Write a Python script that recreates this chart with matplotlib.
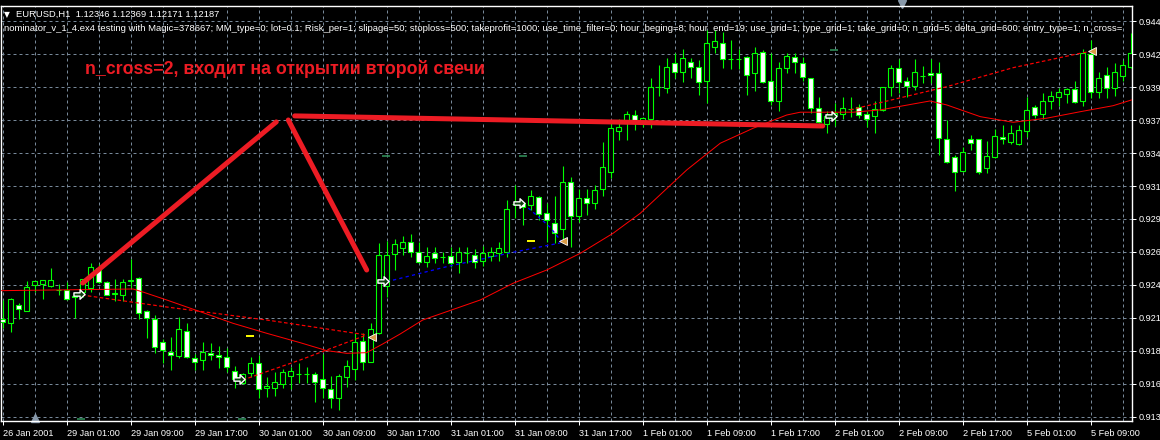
import numpy as np
import matplotlib.pyplot as plt
from matplotlib.path import Path

plt.rcParams['font.family'] = ['Liberation Sans', 'DejaVu Sans']

symbol_line = "EURUSD,H1  1.12346 1.12369 1.12171 1.12187"
ea_line = ("nominator_v_1_4.ex4 testing with Magic=378667; MM_type=0; lot=0.1; Risk_per=1; slipage=50; "
           "stoploss=500; takeprofit=1000; use_time_filter=0; hour_beging=8; hour_end=19; use_grid=1; "
           "type_grid=1; take_grid=0; n_grid=5; delta_grid=600; entry_type=1; n_cross=")
note = "n_cross=2, входит на открытии второй свечи"

time_labels = ["26 Jan 2001", "29 Jan 01:00", "29 Jan 09:00", "29 Jan 17:00", "30 Jan 01:00",
               "30 Jan 09:00", "30 Jan 17:00", "31 Jan 01:00", "31 Jan 09:00", "31 Jan 17:00",
               "1 Feb 01:00", "1 Feb 09:00", "1 Feb 17:00", "2 Feb 01:00", "2 Feb 09:00",
               "2 Feb 17:00", "5 Feb 01:00", "5 Feb 09:00"]
price_labels = ["0.913", "0.916", "0.918", "0.921", "0.924", "0.926", "0.929",
                "0.931", "0.934", "0.937", "0.939", "0.942", "0.944"]

# H1 bars
opens = [0.92096, 0.92067, 0.92203, 0.92161, 0.92360, 0.92368, 0.92357, 0.92323, 0.92323, 0.92280,
         0.92310, 0.92337, 0.92493, 0.92384, 0.92295, 0.92282, 0.92395, 0.92420, 0.92161, 0.92094,
         0.91913, 0.91840, 0.91806, 0.92002, 0.91788, 0.91772, 0.91827, 0.91814, 0.91796, 0.91691,
         0.91597, 0.91675, 0.91749, 0.91553, 0.91553, 0.91584, 0.91652, 0.91665, 0.91665, 0.91665,
         0.91623, 0.91545, 0.91474, 0.91639, 0.91702, 0.91924, 0.91761, 0.91984, 0.92355, 0.92606,
         0.92650, 0.92702, 0.92624, 0.92545, 0.92611, 0.92585, 0.92590, 0.92545, 0.92616, 0.92598,
         0.92553, 0.92592, 0.92611, 0.92624, 0.92995, 0.93003, 0.92990, 0.93055, 0.92925, 0.92846,
         0.92799, 0.93168, 0.92906, 0.93042, 0.93003, 0.93113, 0.93251, 0.93572, 0.93643, 0.93695,
         0.93651, 0.93662, 0.93917, 0.93909, 0.94101, 0.94030, 0.94113, 0.94074, 0.93964, 0.94226,
         0.94262, 0.94134, 0.94134, 0.94152, 0.94022, 0.94192, 0.93964, 0.93808, 0.94062, 0.94148,
         0.94101, 0.93983, 0.93748, 0.93622, 0.93695, 0.93703, 0.93740, 0.93761, 0.93703, 0.93688,
         0.93735, 0.93913, 0.94062, 0.93962, 0.93925, 0.94001, 0.94022, 0.94022, 0.93505, 0.93364,
         0.93259, 0.93505, 0.93505, 0.93278, 0.93364, 0.93521, 0.93486, 0.93466, 0.93572, 0.93761,
         0.93701, 0.93808, 0.93839, 0.93860, 0.93897, 0.93808, 0.94174, 0.93878, 0.94009, 0.93909,
         0.94001, 0.94069]
highs = [0.92245, 0.92261, 0.92221, 0.92396, 0.92396, 0.92402, 0.92494, 0.92368, 0.92384, 0.92284,
         0.92410, 0.92537, 0.92525, 0.92396, 0.92407, 0.92407, 0.92569, 0.92425, 0.92165, 0.92127,
         0.91939, 0.91953, 0.92110, 0.92067, 0.91822, 0.91913, 0.91906, 0.91884, 0.91866, 0.91730,
         0.91670, 0.91800, 0.91814, 0.91644, 0.91683, 0.91704, 0.91722, 0.91749, 0.91722, 0.91683,
         0.91819, 0.91649, 0.91665, 0.91775, 0.91984, 0.91984, 0.92067, 0.92690, 0.92710, 0.92721,
         0.92747, 0.92762, 0.92702, 0.92658, 0.92663, 0.92619, 0.92663, 0.92663, 0.92663, 0.92642,
         0.92668, 0.92658, 0.92702, 0.93029, 0.93147, 0.93016, 0.93107, 0.93060, 0.93003, 0.93060,
         0.93296, 0.93207, 0.93113, 0.93113, 0.93147, 0.93486, 0.93630, 0.93662, 0.93729, 0.93735,
         0.93682, 0.93983, 0.94087, 0.94145, 0.94179, 0.94210, 0.94140, 0.94127, 0.94362, 0.94362,
         0.94348, 0.94283, 0.94210, 0.94158, 0.94231, 0.94205, 0.94179, 0.94113, 0.94184, 0.94179,
         0.94152, 0.93988, 0.93834, 0.93729, 0.93787, 0.93834, 0.93834, 0.93782, 0.93729, 0.93808,
         0.93916, 0.94087, 0.94132, 0.93996, 0.94132, 0.94080, 0.94132, 0.94113, 0.93656, 0.93382,
         0.93442, 0.93539, 0.93508, 0.93494, 0.93583, 0.93617, 0.93617, 0.93617, 0.93839, 0.93774,
         0.93870, 0.93886, 0.93905, 0.93905, 0.93964, 0.94210, 0.94283, 0.94030, 0.94074, 0.94105,
         0.94127, 0.94336]
lows = [0.92023, 0.91997, 0.92094, 0.92155, 0.92310, 0.92253, 0.92350, 0.92284, 0.92245, 0.92106,
        0.92271, 0.92310, 0.92376, 0.92282, 0.92235, 0.92240, 0.92337, 0.92094, 0.91945, 0.91832,
        0.91753, 0.91696, 0.91788, 0.91788, 0.91696, 0.91696, 0.91775, 0.91710, 0.91683, 0.91553,
        0.91586, 0.91644, 0.91474, 0.91487, 0.91492, 0.91553, 0.91550, 0.91592, 0.91597, 0.91448,
        0.91474, 0.91396, 0.91383, 0.91565, 0.91618, 0.91696, 0.91755, 0.91980, 0.92271, 0.92480,
        0.92598, 0.92584, 0.92537, 0.92506, 0.92537, 0.92537, 0.92506, 0.92459, 0.92533, 0.92493,
        0.92512, 0.92553, 0.92553, 0.92584, 0.92886, 0.92833, 0.92951, 0.92872, 0.92702, 0.92694,
        0.92702, 0.92658, 0.92859, 0.92911, 0.92961, 0.93060, 0.93199, 0.93499, 0.93499, 0.93578,
        0.93604, 0.93591, 0.93844, 0.93870, 0.93983, 0.93957, 0.93983, 0.93852, 0.93787, 0.94179,
        0.94062, 0.94054, 0.94054, 0.93852, 0.93886, 0.93944, 0.93774, 0.93729, 0.94022, 0.94027,
        0.93964, 0.93713, 0.93635, 0.93552, 0.93609, 0.93662, 0.93682, 0.93670, 0.93604, 0.93552,
        0.93729, 0.93844, 0.93870, 0.93839, 0.93891, 0.93944, 0.93949, 0.93382, 0.93321, 0.93102,
        0.93251, 0.93421, 0.93233, 0.93243, 0.93360, 0.93468, 0.93468, 0.93460, 0.93521, 0.93670,
        0.93662, 0.93740, 0.93766, 0.93792, 0.93787, 0.93768, 0.93826, 0.93826, 0.93826, 0.93844,
        0.93964, 0.94065]
closes = [0.92075, 0.92250, 0.92172, 0.92345, 0.92392, 0.92399, 0.92399, 0.92323, 0.92251, 0.92270,
          0.92407, 0.92501, 0.92384, 0.92287, 0.92300, 0.92384, 0.92402, 0.92141, 0.92102, 0.91874,
          0.91853, 0.91814, 0.92015, 0.91796, 0.91757, 0.91835, 0.91811, 0.91796, 0.91722, 0.91623,
          0.91665, 0.91749, 0.91545, 0.91571, 0.91599, 0.91678, 0.91688, 0.91665, 0.91665, 0.91604,
          0.91553, 0.91474, 0.91649, 0.91728, 0.91913, 0.91761, 0.92015, 0.92598, 0.92598, 0.92684,
          0.92697, 0.92624, 0.92545, 0.92590, 0.92572, 0.92585, 0.92538, 0.92619, 0.92616, 0.92545,
          0.92611, 0.92619, 0.92655, 0.92958, 0.92995, 0.92976, 0.93060, 0.92917, 0.92872, 0.92773,
          0.93168, 0.92906, 0.93042, 0.93003, 0.93107, 0.93285, 0.93591, 0.93599, 0.93703, 0.93643,
          0.93670, 0.93917, 0.93917, 0.94069, 0.94035, 0.94140, 0.94069, 0.93957, 0.94258, 0.94278,
          0.94132, 0.94134, 0.94134, 0.94009, 0.94184, 0.93952, 0.93805, 0.94062, 0.94158, 0.94113,
          0.93996, 0.93748, 0.93640, 0.93688, 0.93709, 0.93748, 0.93740, 0.93695, 0.93662, 0.93740,
          0.93913, 0.94062, 0.93957, 0.93925, 0.94030, 0.94001, 0.94007, 0.93513, 0.93329, 0.93251,
          0.93403, 0.93478, 0.93251, 0.93374, 0.93533, 0.93505, 0.93552, 0.93578, 0.93735, 0.93695,
          0.93805, 0.93847, 0.93873, 0.93897, 0.93800, 0.94179, 0.93878, 0.93983, 0.93909, 0.94030,
          0.94087, 0.94179]

# indicator lines (bar index, price)
ma_bar = [-0.3, 16.3, 17.5, 20.5, 24.7, 28.8, 33, 37.2, 40.5, 43, 45.5, 47.5, 49.7, 52.5, 59.7,
          63.8, 68, 72.2, 76.3, 79.7, 85.5, 89.7, 93.8, 98, 99.7, 106.3, 109.7, 115.9, 118, 122.2,
          126.3, 130.5, 134.7, 138.8, 141.1]
ma_price = [0.92318, 0.92331, 0.92308, 0.92245, 0.92153, 0.92062, 0.91984, 0.91910, 0.91848, 0.91827,
            0.91832, 0.91900, 0.91979, 0.92088, 0.92245, 0.92376, 0.92480, 0.92611, 0.92768, 0.92925,
            0.93264, 0.93474, 0.93591, 0.93695, 0.93717, 0.93717, 0.93735, 0.93805, 0.93774, 0.93682,
            0.93638, 0.93670, 0.93721, 0.93768, 0.93813]
trail_bars = [[9.9, 20.5, 33, 45.5], [30, 37.2, 45.5], [105.9, 118, 126.3, 134.7, 136.3]]
trail_prices = [[0.92284, 0.92190, 0.92088, 0.91971], [0.91618, 0.91775, 0.91971],
                [0.93735, 0.93917, 0.94066, 0.94179, 0.94197]]
grid_bars = [[48, 55.5, 63.8, 69.7], [65.7, 68.4, 69.9]]
grid_prices = [[0.92388, 0.92506, 0.92619, 0.92692], [0.92966, 0.92817, 0.92699]]

buy_bar = [9.5, 29.5, 47.5, 64.5, 103.5]
buy_price = [0.92292, 0.91626, 0.92394, 0.93005, 0.93688]
close_bar = [46.2, 70.0, 136.2]
close_price = [0.91955, 0.92708, 0.94197]
level_bar = [30.9, 66.0]
level_price = [0.91963, 0.92708]
mark_bar = [47.9, 65.0, 103.9, 9.8, 29.9]
mark_price = [0.93372, 0.93372, 0.94205, 0.91312, 0.91312]

# hand-drawn annotation strokes
stroke_bars = [[10.0, 34.2], [35.7, 45.5], [36.5, 102.5]]
stroke_prices = [[0.92378, 0.93641], [0.93656, 0.92480], [0.93688, 0.93609]]

UP = '#00ff00'
GRID = '#778899'
PAINT = '#ed1c24'
PX = 0.72

fig = plt.figure(figsize=(11.6, 4.4), dpi=100, facecolor='black')
ax = fig.add_axes([1 / 1160, 19 / 440, 1131 / 1160, 415 / 440], facecolor='black')

price_ticks = np.linspace(0.9133, 0.9443, len(price_labels))
ax.set_xlim(-0.21, 141.16)
ax.set_ylim(0.912963, 0.945495)

# dashed grid
for p in price_ticks:
    ax.axhline(p, color=GRID, lw=PX, ls=(0, (3, 3)), zorder=1)
for b in np.arange(0, 142, 4):
    ax.axvline(b, color=GRID, lw=PX, ls=(0, (3, 3)), zorder=1)

# candles
o, h, l, c = map(np.array, (opens, highs, lows, closes))
x = np.arange(len(o))
bull = c >= o
ax.vlines(x, l, h, color=UP, lw=PX * 1.1, zorder=3)
ax.bar(x, np.abs(c - o), bottom=np.minimum(o, c), width=0.6,
       color=np.where(bull, 'black', 'white'), edgecolor=UP, linewidth=PX * 1.1, zorder=4)

# indicators
ax.plot(ma_bar, ma_price, color='red', lw=PX, zorder=5)
for bx, py in zip(trail_bars, trail_prices):
    ax.plot(bx, py, color='red', lw=PX * 1.2, ls=(0, (3, 2)), zorder=5)
for bx, py in zip(grid_bars, grid_prices):
    ax.plot(bx, py, color='#0000ff', lw=PX * 1.3, ls=(0, (2.5, 2.5)), zorder=5)

arrow = Path([(-1, -0.3), (0.1, -0.3), (0.1, -0.85), (1, 0), (0.1, 0.85), (0.1, 0.3), (-1, 0.3), (-1, -0.3)],
             [Path.MOVETO] + [Path.LINETO] * 6 + [Path.CLOSEPOLY])
ax.plot(buy_bar, buy_price, ls='none', marker=arrow, ms=8, mfc='#0b3d0b', mec='white', mew=1, zorder=7)
ax.plot(close_bar, close_price, ls='none', marker='<', ms=6, mfc='#d89a45', mec='white', mew=0.6, zorder=7)
ax.plot(level_bar, level_price, ls='none', marker='_', ms=5.5, mec='yellow', mew=1.4, zorder=6)
ax.plot(mark_bar, mark_price, ls='none', marker='_', ms=5.5, mec='#2e8b57', mew=1.2, zorder=6)

# annotation strokes and caption
for bx, py in zip(stroke_bars, stroke_prices):
    ax.plot(bx, py, color=PAINT, lw=3.6, solid_capstyle='round', zorder=8)
ax.text(0.0745, 0.836, note, transform=ax.transAxes, color=PAINT, fontsize=12.75,
        fontweight='bold', va='baseline', ha='left', zorder=9)

# header
fig.text(4 / 1160, 1 - 15 / 440, '\u25bc', color='white', fontsize=5.5, va='center',
         family=['DejaVu Sans'])
fig.text(16 / 1160, 1 - 14.5 / 440, symbol_line, color='white', fontsize=6.75, va='center')
ax.text(3 / 1131, (421 - 28.3) / 415, ea_line, transform=ax.transAxes, color='white',
        fontsize=6.83, va='center', ha='left', clip_on=True, zorder=9)

# MT4-style small grey shift markers
ax.plot([0.03], [0.007], transform=ax.transAxes, marker='^', ms=6, color='#8899aa', ls='none', clip_on=False)
ax.plot([0.797], [1.004], transform=ax.transAxes, marker='v', ms=6, color='#8899aa', ls='none', clip_on=False)

# axes styling
for s in ax.spines.values():
    s.set_color('white')
    s.set_linewidth(1)
ax.set_xticks(np.arange(len(time_labels)) * 8, time_labels)
for lab in ax.get_xticklabels():
    lab.set_horizontalalignment('left')
ax.yaxis.tick_right()
ax.set_yticks(price_ticks, price_labels)
ax.tick_params(colors='white', labelsize=6.6, length=3, width=PX)
ax.tick_params(axis='x', pad=2.5)
ax.tick_params(axis='y', pad=1.5)

fig.savefig('out.png', dpi=100, facecolor='black')
